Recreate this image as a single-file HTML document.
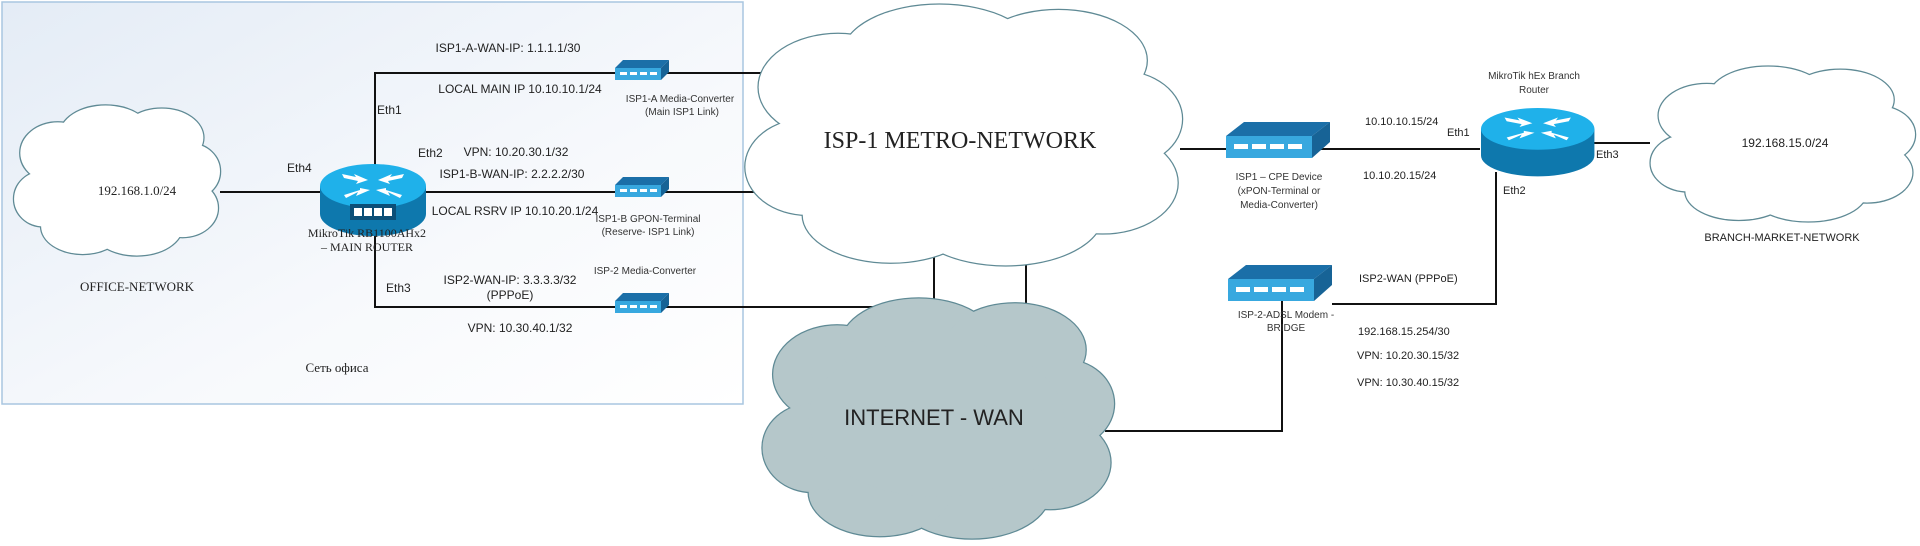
<!DOCTYPE html>
<html><head><meta charset="utf-8"><style>
html,body{margin:0;padding:0;background:#fff;width:1920px;height:546px;overflow:hidden}
svg{display:block}
.s{font-family:"Liberation Sans",sans-serif;font-size:12px;fill:#222}
.sr{font-family:"Liberation Serif",serif;font-size:13px;fill:#222}
.sm{font-family:"Liberation Sans",sans-serif;font-size:10px;fill:#333}
</style></head><body>
<svg width="1920" height="546" viewBox="0 0 1920 546" xmlns="http://www.w3.org/2000/svg">
<defs>
<linearGradient id="bg" x1="0" y1="0" x2="1" y2="1">
<stop offset="0" stop-color="#e4ecf6"/><stop offset="0.6" stop-color="#f7f9fc"/><stop offset="1" stop-color="#ffffff"/>
</linearGradient>
<g id="cl">
<ellipse cx="22" cy="32" rx="18" ry="20"/><ellipse cx="45" cy="20" rx="22" ry="19"/><ellipse cx="72" cy="22" rx="20" ry="19"/>
<ellipse cx="86" cy="44" rx="14" ry="18"/><ellipse cx="82" cy="68" rx="17" ry="19"/><ellipse cx="60" cy="80" rx="22" ry="19"/>
<ellipse cx="34" cy="80" rx="20" ry="18"/><ellipse cx="15" cy="62" rx="14" ry="18"/><ellipse cx="50" cy="50" rx="36" ry="32"/>
</g>
<g id="clo" fill="none" stroke="#5f8a95" stroke-width="2.5">
<ellipse cx="22" cy="32" rx="18" ry="20" vector-effect="non-scaling-stroke"/><ellipse cx="45" cy="20" rx="22" ry="19" vector-effect="non-scaling-stroke"/><ellipse cx="72" cy="22" rx="20" ry="19" vector-effect="non-scaling-stroke"/><ellipse cx="86" cy="44" rx="14" ry="18" vector-effect="non-scaling-stroke"/><ellipse cx="82" cy="68" rx="17" ry="19" vector-effect="non-scaling-stroke"/><ellipse cx="60" cy="80" rx="22" ry="19" vector-effect="non-scaling-stroke"/><ellipse cx="34" cy="80" rx="20" ry="18" vector-effect="non-scaling-stroke"/><ellipse cx="15" cy="62" rx="14" ry="18" vector-effect="non-scaling-stroke"/>
</g>
<g id="rt">
<path d="M0,22 L0,50 A53,22 0 0 0 106,50 L106,22 Z" fill="#0e78ad"/>
<ellipse cx="53" cy="22" rx="53" ry="22" fill="#1fb1ea"/>
<path d="M22,10 L36,13 L34,10 L48,16 L36,20 L38,17 L24,14Z M84,10 L70,13 L72,10 L58,16 L70,20 L68,17 L82,14Z M26,34 L38,28 L36,32 L50,26 L40,24 L40,26 L24,31Z M80,34 L68,28 L70,32 L56,26 L66,24 L66,26 L82,31Z" fill="#fff"/>
</g>
<g id="mc">
<polygon points="0,8 8,0 54,0 46,8" fill="#1b6fa8"/>
<polygon points="46,8 54,0 54,12 46,20" fill="#176396"/>
<rect x="0" y="8" width="46" height="12" fill="#38a8df"/>
<rect x="5" y="12" width="7" height="3" fill="#fff"/><rect x="15" y="12" width="7" height="3" fill="#fff"/><rect x="25" y="12" width="7" height="3" fill="#fff"/><rect x="35" y="12" width="7" height="3" fill="#fff"/>
</g>
<g id="cpe">
<polygon points="0,14 18,0 104,0 86,14" fill="#1b6fa8"/>
<polygon points="86,14 104,0 104,20 86,36" fill="#176396"/>
<rect x="0" y="14" width="86" height="22" fill="#38a8df"/>
<rect x="8" y="22" width="14" height="5" fill="#fff"/><rect x="26" y="22" width="14" height="5" fill="#fff"/><rect x="44" y="22" width="14" height="5" fill="#fff"/><rect x="62" y="22" width="14" height="5" fill="#fff"/>
</g>
</defs>
<rect x="2" y="2" width="741" height="402" fill="url(#bg)" stroke="#a9c6e0" stroke-width="1.5"/>

<g stroke="#111" stroke-width="2" fill="none">
<polyline points="780,73 375,73 375,307 936,307"/>
<line x1="220" y1="192" x2="790" y2="192"/>
<line x1="934" y1="255" x2="934" y2="306"/>
<line x1="1026" y1="255" x2="1026" y2="337"/>
<line x1="1180" y1="149" x2="1480" y2="149"/>
<polyline points="1332,304 1496,304 1496,172"/>
<polyline points="1282,300 1282,431 1105,431"/>
<line x1="1592" y1="143" x2="1650" y2="143"/>
</g>

<g transform="translate(12,104) scale(2.08,1.53)"><use href="#clo"/><use href="#cl" fill="#fff"/></g>
<g transform="translate(741,2) scale(4.41,2.66)"><use href="#clo"/><use href="#cl" fill="#fff"/></g>
<g transform="translate(759,296) scale(3.55,2.45)"><use href="#clo"/><use href="#cl" fill="#b5c7ca"/></g>
<g transform="translate(1648,65) scale(2.67,1.58)"><use href="#clo"/><use href="#cl" fill="#fff"/></g>

<g transform="translate(320,164)"><use href="#rt"/><rect x="30" y="40" width="46" height="16" fill="#0b4f78"/><rect x="34" y="44" width="8" height="8" fill="#fff"/><rect x="44" y="44" width="8" height="8" fill="#fff"/><rect x="54" y="44" width="8" height="8" fill="#fff"/><rect x="64" y="44" width="8" height="8" fill="#fff"/></g>
<g transform="translate(1481,108) scale(1.07,0.95)"><use href="#rt"/></g>
<use href="#mc" x="615" y="60"/>
<use href="#mc" x="615" y="177"/>
<use href="#mc" x="615" y="293"/>
<use href="#cpe" x="1226" y="122"/>
<use href="#cpe" x="1228" y="265"/>

<g text-anchor="middle">
<text x="137" y="195" class="sr">192.168.1.0/24</text>
<text x="137" y="291" class="sr">OFFICE-NETWORK</text>
<text x="367" y="237" class="sr" style="font-size:12px">MikroTik RB1100AHx2</text>
<text x="367" y="251" class="sr" style="font-size:12px">– MAIN ROUTER</text>
<text x="337" y="372" class="sr">Сеть офиса</text>
<text x="508" y="52" class="s">ISP1-A-WAN-IP: 1.1.1.1/30</text>
<text x="520" y="93" class="s">LOCAL MAIN IP 10.10.10.1/24</text>
<text x="680" y="102" class="sm">ISP1-A Media-Converter</text>
<text x="682" y="115" class="sm">(Main ISP1 Link)</text>
<text x="516" y="156" class="s">VPN: 10.20.30.1/32</text>
<text x="512" y="178" class="s">ISP1-B-WAN-IP: 2.2.2.2/30</text>
<text x="515" y="215" class="s">LOCAL RSRV IP 10.10.20.1/24</text>
<text x="648" y="222" class="sm">ISP1-B  GPON-Terminal</text>
<text x="648" y="235" class="sm">(Reserve- ISP1 Link)</text>
<text x="645" y="274" class="sm">ISP-2 Media-Converter</text>
<text x="510" y="284" class="s">ISP2-WAN-IP: 3.3.3.3/32</text>
<text x="510" y="299" class="s">(PPPoE)</text>
<text x="520" y="332" class="s">VPN: 10.30.40.1/32</text>
<text x="960" y="148" class="sr" style="font-size:24px">ISP-1 METRO-NETWORK</text>
<text x="934" y="425" class="s" style="font-size:22px">INTERNET - WAN</text>
<text x="1279" y="180" class="sm">ISP1 – CPE Device</text>
<text x="1279" y="194" class="sm">(xPON-Terminal or</text>
<text x="1279" y="208" class="sm">Media-Converter)</text>
<text x="1286" y="318" class="sm">ISP-2-ADSL Modem -</text>
<text x="1286" y="331" class="sm">BRIDGE</text>
<text x="1534" y="79" class="sm">MikroTik hEx Branch</text>
<text x="1534" y="93" class="sm">Router</text>
<text x="1785" y="147" class="s">192.168.15.0/24</text>
<text x="1782" y="241" class="s" style="font-size:11px">BRANCH-MARKET-NETWORK</text>
</g>
<g class="s">
<text x="287" y="172">Eth4</text>
<text x="377" y="114">Eth1</text>
<text x="418" y="157">Eth2</text>
<text x="386" y="292">Eth3</text>
<text x="1365" y="125" style="font-size:11px">10.10.10.15/24</text>
<text x="1447" y="136" style="font-size:11px">Eth1</text>
<text x="1363" y="179" style="font-size:11px">10.10.20.15/24</text>
<text x="1596" y="158" style="font-size:11px">Eth3</text>
<text x="1503" y="194" style="font-size:11px">Eth2</text>
<text x="1359" y="282" style="font-size:11px">ISP2-WAN (PPPoE)</text>
<text x="1358" y="335" style="font-size:11px">192.168.15.254/30</text>
<text x="1357" y="359" style="font-size:11px">VPN: 10.20.30.15/32</text>
<text x="1357" y="386" style="font-size:11px">VPN: 10.30.40.15/32</text>
</g>
</svg>
</body></html>
